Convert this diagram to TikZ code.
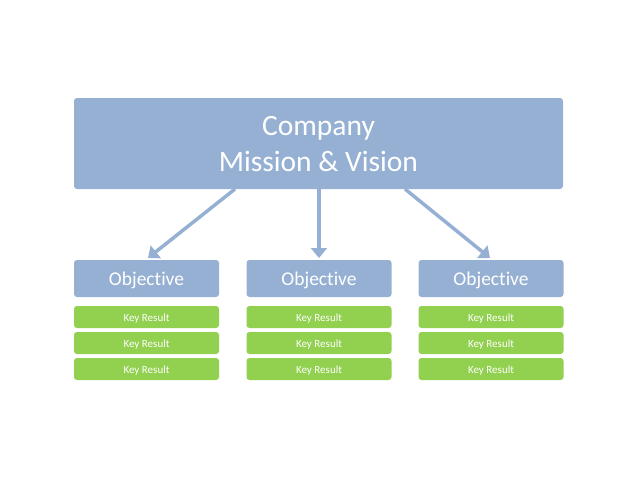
\documentclass[tikz,border=0pt]{standalone}
\usepackage{fontspec}
\setmainfont[Ligatures=NoCommon]{Carlito}
\usetikzlibrary{arrows.meta}
\definecolor{boxblue}{HTML}{95B0D3}
\definecolor{arrowblue}{HTML}{95B0D3}
\definecolor{krgreen}{HTML}{92D050}
\newcommand{\dn}[2][2pt]{\raisebox{-#1}[\height][\depth]{#2}}
\begin{document}
\begin{tikzpicture}[x=1pt,y=-1pt,
  bluebox/.style={fill=boxblue,draw=none,rounded corners=3pt,text=white,inner sep=0pt},
  krbox/.style={fill=krgreen,draw=none,rounded corners=3pt,text=white,inner sep=0pt,
    minimum width=145pt,minimum height=22pt,font=\fontsize{11}{13}\selectfont},
  objbox/.style={bluebox,minimum width=145pt,minimum height=37pt,font=\fontsize{19.5}{23}\selectfont},
  conn/.style={draw=arrowblue,line width=3.5pt,-{Triangle[length=10pt,width=16pt]}}]
\useasboundingbox (0,0) rectangle (638,479);
\node[bluebox,minimum width=489pt,minimum height=91pt,font=\fontsize{29.5}{36}\selectfont] (top) at (318.5,143.5) {\dn[3pt]{\begin{tabular}{@{}c@{}}Company\\[-0.5pt]Mission \& Vision\end{tabular}}};
\node[objbox] (o1) at (146.5,278.5) {\dn{Objective}};
\node[objbox] (o2) at (319,278.5) {\dn{Objective}};
\node[objbox] (o3) at (491,278.5) {\dn{Objective}};
\foreach \i/\x in {1/146.5,2/319,3/491}{
  \node[krbox] (k\i a) at (\x,317) {\dn{Key Result}};
  \node[krbox] (k\i b) at (\x,343) {\dn{Key Result}};
  \node[krbox] (k\i c) at (\x,369) {\dn{Key Result}};
}
\coordinate (s1) at (235,189);
\coordinate (s2) at (319,189);
\coordinate (s3) at (405,189);
\coordinate (e1) at (148,258);
\coordinate (e2) at (319,258);
\coordinate (e3) at (490,258);
\draw[conn] (s1) -- (e1);
\draw[conn] (s2) -- (e2);
\draw[conn] (s3) -- (e3);
\end{tikzpicture}
\end{document}
